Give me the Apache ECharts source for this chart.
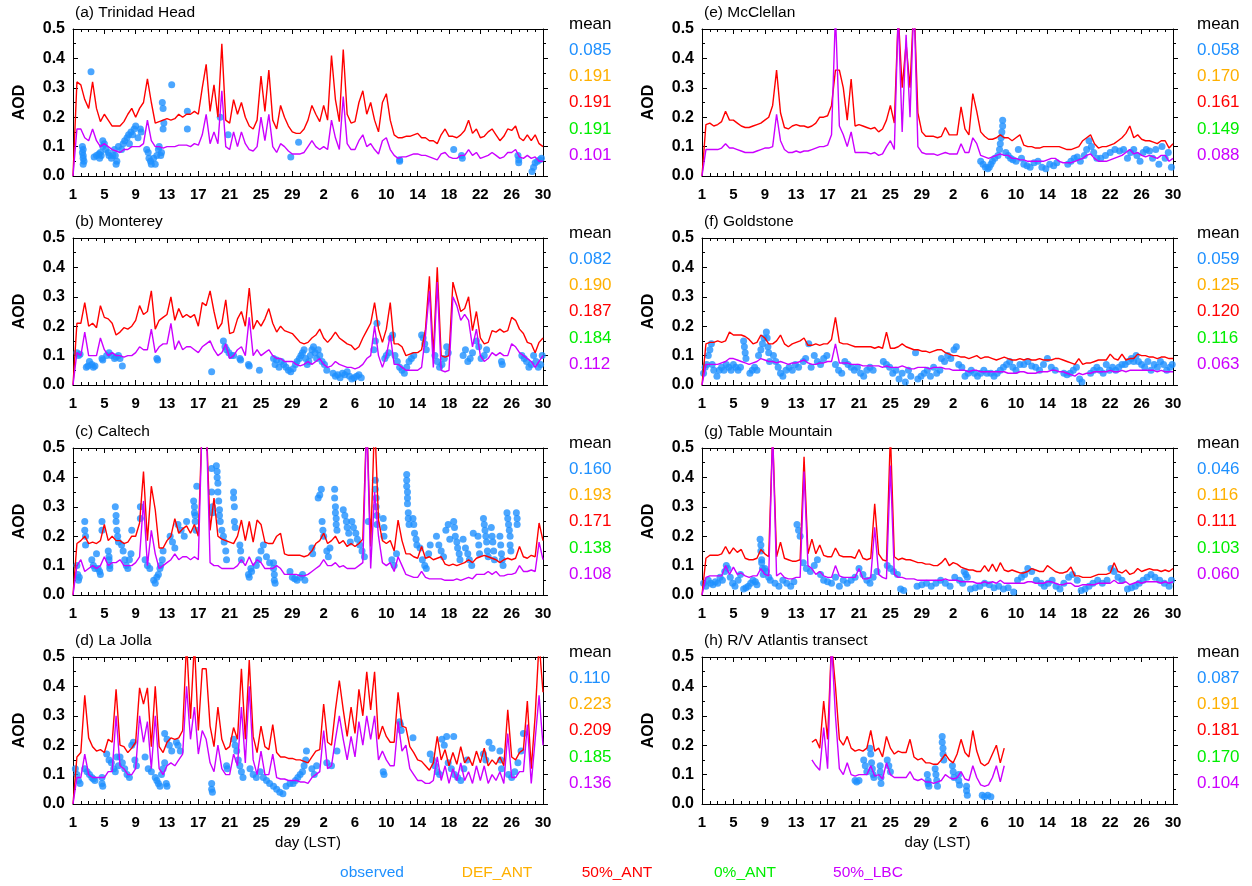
<!DOCTYPE html>
<html>
<head>
<meta charset="utf-8">
<script src="https://cdn.jsdelivr.net/npm/echarts@6/dist/echarts.min.js"></script>
<style>
html,body{margin:0;padding:0;background:#fff;}
#chart{width:1252px;height:886px;}
</style>
</head>
<body>
<div id="chart"></div>
<script>
// ---- station names and tick labels ----
const siteTitles = ['(a) Trinidad Head', '(b) Monterey', '(c) Caltech', '(d) La Jolla',
                    '(e) McClellan', '(f) Goldstone', '(g) Table Mountain', '(h) R/V Atlantis transect'];
const dayTicks = ['1','5','9','13','17','21','25','29','2','6','10','14','18','22','26','30'];
const aodTicks = ['0.0','0.1','0.2','0.3','0.4','0.5'];
const runNames = ['observed', 'DEF_ANT', '50%_ANT', '0%_ANT', '50%_LBC'];

// ---- period means: observed, DEF_ANT, 50%_ANT, 0%_ANT, 50%_LBC ----
const meanA = [0.085, 0.191, 0.191, 0.191, 0.101];
const meanB = [0.082, 0.190, 0.187, 0.184, 0.112];
const meanC = [0.160, 0.193, 0.171, 0.138, 0.108];
const meanD = [0.110, 0.223, 0.209, 0.185, 0.136];
const meanE = [0.058, 0.170, 0.161, 0.149, 0.088];
const meanF = [0.059, 0.125, 0.120, 0.116, 0.063];
const meanG = [0.046, 0.116, 0.111, 0.103, 0.060];
const meanH = [0.087, 0.191, 0.181, 0.170, 0.104];

// ---- modelled AOD, one value every half day from 1 May 00 LST to 30 Jun ----
const STEP_DAYS = 0.5;

const ant50A = [
 0,.32,.31,.26,.23,.32,.23,.185,.21,.19,
 .17,.17,.17,.185,.21,.23,.20,.23,.25,.33,
 .25,.18,.185,.19,.195,.19,.195,.21,.20,.21,
 .21,.22,.21,.30,.38,.22,.31,.20,.45,.19,
 .18,.26,.21,.25,.20,.17,.16,.19,.34,.22,
 .36,.19,.16,.24,.20,.17,.15,.145,.145,.16,
 .19,.24,.21,.185,.24,.19,.41,.26,.185,.43,
 .21,.18,.185,.25,.29,.21,.25,.19,.15,.25,
 .28,.19,.14,.13,.13,.135,.135,.14,.145,.13,
 .13,.12,.12,.11,.14,.16,.135,.135,.13,.14,
 .155,.19,.145,.16,.13,.135,.15,.16,.14,.12,
 .135,.16,.155,.17,.13,.12,.14,.12,.14,.11,
 .10];
const lbcA = [
 0,.16,.16,.13,.12,.16,.12,.10,.11,.10,
 .09,.085,.08,.09,.09,.10,.10,.10,.11,.19,
 .12,.10,.10,.095,.10,.10,.10,.105,.105,.105,
 .10,.11,.105,.14,.21,.11,.15,.11,.29,.10,
 .09,.15,.10,.15,.11,.09,.085,.10,.20,.12,
 .21,.10,.08,.11,.10,.085,.075,.075,.075,.08,
 .10,.12,.10,.09,.10,.09,.19,.13,.09,.27,
 .11,.09,.09,.12,.14,.10,.11,.09,.075,.12,
 .13,.09,.07,.06,.065,.065,.07,.075,.075,.07,
 .07,.065,.06,.055,.075,.08,.065,.06,.06,.07,
 .07,.09,.07,.08,.06,.065,.07,.08,.07,.06,
 .065,.08,.08,.09,.065,.06,.07,.06,.065,.05,
 .05];

const ant50B = [
 0,.21,.21,.28,.20,.21,.195,.27,.23,.225,
 .21,.17,.18,.195,.19,.20,.22,.27,.24,.25,
 .32,.19,.22,.23,.24,.30,.22,.26,.23,.24,
 .23,.24,.20,.28,.27,.32,.25,.19,.21,.29,
 .175,.18,.225,.25,.20,.33,.19,.22,.20,.225,
 .26,.21,.18,.20,.185,.18,.175,.16,.145,.14,
 .145,.16,.17,.19,.16,.145,.16,.18,.16,.15,
 .14,.135,.12,.13,.16,.185,.21,.28,.19,.145,
 .19,.28,.14,.14,.13,.10,.105,.11,.11,.12,
 .19,.37,.10,.40,.10,.095,.10,.35,.30,.25,
 .26,.30,.185,.25,.16,.14,.145,.185,.18,.19,
 .18,.185,.23,.22,.19,.175,.145,.14,.11,.145,
 .16];
const lbcB = [
 0,.11,.10,.18,.10,.10,.10,.16,.12,.10,
 .11,.10,.10,.095,.10,.10,.11,.13,.12,.12,
 .19,.11,.13,.14,.14,.21,.12,.15,.12,.13,
 .13,.12,.11,.13,.14,.15,.12,.10,.11,.14,
 .09,.10,.12,.13,.10,.23,.10,.12,.10,.11,
 .12,.10,.09,.09,.08,.08,.08,.07,.065,.07,
 .08,.07,.08,.09,.07,.06,.065,.08,.07,.065,
 .06,.06,.055,.06,.07,.09,.10,.20,.10,.06,
 .10,.17,.07,.07,.06,.05,.05,.05,.05,.06,
 .17,.32,.06,.35,.05,.045,.05,.30,.27,.22,
 .24,.22,.13,.19,.10,.08,.09,.11,.10,.11,
 .10,.10,.14,.13,.11,.10,.09,.08,.06,.08,
 .10];

const ant50C = [
 0,.175,.185,.20,.175,.18,.175,.185,.24,.185,
 .20,.185,.185,.175,.18,.20,.20,.245,.42,.185,
 .37,.29,.16,.16,.185,.20,.26,.21,.225,.235,
 .21,.24,.20,.6,.6,.22,.33,.20,.19,.185,
 .18,.175,.20,.255,.185,.25,.18,.255,.24,.18,
 .175,.175,.20,.21,.14,.135,.135,.135,.135,.13,
 .135,.15,.175,.185,.21,.175,.185,.20,.175,.185,
 .165,.175,.165,.175,.19,.6,.165,.6,.255,.185,
 .175,.185,.15,.255,.185,.14,.14,.13,.125,.165,
 .125,.13,.12,.125,.13,.105,.10,.105,.10,.105,
 .11,.12,.11,.125,.13,.135,.13,.125,.12,.11,
 .12,.125,.12,.125,.165,.13,.125,.135,.13,.245,
 .185];
const lbcC = [
 0,.10,.12,.08,.09,.10,.09,.10,.13,.10,
 .11,.11,.12,.10,.10,.10,.11,.13,.32,.10,
 .22,.14,.09,.10,.11,.12,.14,.12,.13,.13,
 .12,.13,.12,.6,.6,.11,.10,.10,.09,.09,
 .09,.09,.10,.12,.10,.13,.10,.12,.11,.09,
 .09,.09,.10,.09,.07,.07,.07,.07,.065,.065,
 .07,.08,.09,.10,.12,.10,.10,.11,.095,.10,
 .09,.09,.09,.10,.11,.6,.09,.35,.20,.11,
 .10,.11,.08,.13,.10,.07,.065,.06,.06,.08,
 .06,.055,.055,.055,.055,.05,.05,.05,.055,.05,
 .055,.06,.055,.07,.07,.07,.08,.07,.08,.065,
 .065,.07,.07,.075,.10,.08,.08,.085,.08,.18,
 .12];

const ant50D = [
 0,.16,.175,.37,.225,.195,.18,.185,.175,.22,
 .21,.39,.20,.195,.175,.19,.21,.395,.34,.395,
 .195,.40,.195,.175,.21,.225,.22,.225,.25,.55,
 .29,.55,.25,.46,.46,.265,.195,.33,.22,.185,
 .195,.26,.22,.46,.22,.49,.23,.175,.265,.195,
 .185,.27,.175,.16,.16,.155,.155,.15,.15,.145,
 .14,.16,.18,.185,.34,.21,.20,.32,.42,.32,
 .23,.33,.24,.39,.30,.45,.32,.45,.22,.265,
 .23,.21,.21,.38,.265,.26,.195,.175,.15,.145,
 .13,.115,.14,.23,.15,.185,.13,.175,.135,.195,
 .14,.16,.13,.18,.14,.19,.13,.15,.135,.16,
 .13,.32,.16,.15,.175,.185,.35,.12,.30,.55,
 .38];
const lbcD = [
 0,.09,.09,.17,.10,.09,.09,.09,.09,.11,
 .11,.30,.13,.12,.10,.10,.12,.30,.21,.28,
 .12,.30,.12,.10,.13,.14,.13,.15,.17,.40,
 .22,.33,.17,.25,.22,.14,.11,.20,.12,.10,
 .10,.17,.13,.33,.14,.40,.15,.10,.18,.10,
 .10,.17,.09,.085,.085,.08,.08,.08,.075,.075,
 .07,.09,.10,.11,.25,.12,.13,.22,.30,.22,
 .15,.23,.16,.28,.20,.30,.22,.30,.15,.18,
 .15,.13,.13,.28,.18,.20,.12,.10,.08,.08,
 .07,.07,.08,.16,.08,.13,.07,.12,.08,.14,
 .08,.11,.07,.13,.08,.13,.07,.10,.08,.11,
 .07,.24,.09,.09,.11,.11,.27,.07,.22,.37,
 .20];

const ant50E = [
 0,.175,.18,.17,.175,.185,.22,.19,.19,.18,
 .17,.165,.165,.17,.175,.18,.19,.20,.24,.36,
 .215,.165,.16,.17,.175,.17,.17,.165,.17,.18,
 .20,.20,.205,.24,.36,.36,.30,.19,.33,.17,
 .175,.17,.165,.16,.165,.15,.16,.19,.24,.18,
 .55,.30,.45,.30,.6,.215,.15,.135,.135,.135,
 .13,.135,.165,.14,.14,.14,.235,.16,.14,.28,
 .22,.15,.135,.125,.125,.13,.14,.13,.13,.12,
 .13,.14,.105,.10,.10,.095,.095,.10,.10,.10,
 .10,.10,.095,.09,.09,.095,.10,.12,.13,.14,
 .11,.095,.10,.10,.105,.11,.12,.13,.145,.17,
 .13,.14,.125,.12,.12,.115,.11,.12,.12,.095,
 .11];
const lbcE = [
 0,.09,.09,.09,.09,.095,.11,.095,.095,.09,
 .085,.08,.08,.08,.085,.09,.095,.095,.10,.21,
 .12,.09,.08,.08,.085,.08,.085,.085,.09,.095,
 .10,.10,.105,.14,.55,.17,.14,.10,.15,.08,
 .08,.08,.08,.075,.08,.07,.075,.10,.12,.09,
 .55,.15,.48,.20,.6,.10,.08,.075,.075,.075,
 .07,.075,.08,.075,.075,.075,.11,.08,.08,.13,
 .11,.07,.065,.06,.065,.07,.075,.07,.07,.06,
 .06,.055,.055,.05,.05,.05,.05,.05,.055,.06,
 .06,.05,.045,.045,.045,.05,.055,.06,.07,.075,
 .06,.05,.05,.05,.055,.06,.065,.07,.08,.09,
 .075,.08,.07,.065,.07,.065,.06,.07,.07,.05,
 .06];

const ant50F = [
 0,.14,.145,.145,.15,.145,.15,.18,.17,.17,
 .17,.165,.155,.14,.145,.17,.16,.14,.14,.15,
 .17,.14,.13,.14,.145,.15,.16,.135,.135,.14,
 .135,.14,.14,.155,.23,.145,.14,.14,.135,.13,
 .13,.13,.13,.13,.125,.13,.125,.18,.125,.125,
 .13,.14,.13,.125,.12,.12,.115,.115,.11,.115,
 .12,.12,.11,.105,.10,.10,.095,.095,.09,.095,
 .10,.09,.095,.095,.09,.085,.09,.095,.09,.085,
 .085,.09,.085,.09,.085,.085,.09,.085,.085,.085,
 .09,.09,.085,.08,.075,.07,.09,.07,.075,.075,
 .08,.085,.085,.085,.105,.09,.085,.105,.085,.09,
 .09,.105,.10,.10,.095,.095,.09,.095,.095,.09,
 .09];
const lbcF = [
 0,.07,.07,.07,.07,.075,.08,.09,.09,.085,
 .08,.075,.07,.075,.08,.09,.085,.08,.08,.075,
 .08,.075,.07,.075,.075,.08,.085,.075,.07,.07,
 .075,.075,.08,.08,.14,.075,.075,.075,.07,.07,
 .07,.065,.065,.065,.065,.065,.06,.065,.06,.06,
 .06,.065,.06,.055,.055,.06,.06,.06,.055,.06,
 .06,.06,.055,.055,.05,.05,.05,.05,.045,.05,
 .05,.045,.045,.045,.045,.045,.045,.045,.04,.04,
 .04,.045,.045,.04,.04,.04,.045,.045,.045,.05,
 .05,.045,.045,.04,.035,.03,.04,.035,.04,.04,
 .045,.045,.045,.045,.05,.045,.045,.05,.045,.05,
 .05,.05,.05,.05,.05,.05,.045,.05,.045,.045,
 .045];

const ant50G = [
 0,.125,.135,.135,.135,.14,.165,.14,.16,.145,
 .155,.125,.12,.12,.125,.155,.14,.13,.55,.13,
 .18,.125,.12,.115,.115,.12,.47,.14,.19,.14,
 .17,.135,.13,.13,.16,.135,.13,.13,.13,.125,
 .155,.125,.12,.125,.31,.14,.12,.115,.55,.13,
 .12,.125,.12,.12,.115,.11,.11,.105,.105,.10,
 .10,.11,.125,.10,.11,.105,.095,.09,.085,.085,
 .08,.08,.10,.08,.105,.08,.11,.085,.08,.085,
 .08,.075,.075,.08,.09,.085,.08,.08,.10,.09,
 .08,.075,.075,.08,.095,.065,.065,.06,.06,.06,
 .065,.07,.07,.07,.075,.11,.08,.075,.085,.07,
 .075,.09,.08,.085,.09,.085,.085,.08,.085,.08,
 .09];
const lbcG = [
 0,.06,.065,.065,.065,.065,.10,.07,.095,.07,
 .075,.065,.06,.065,.065,.09,.07,.065,.55,.065,
 .075,.06,.055,.055,.06,.06,.42,.10,.09,.07,
 .08,.065,.06,.06,.10,.065,.06,.06,.06,.06,
 .09,.055,.055,.06,.23,.07,.06,.055,.44,.07,
 .06,.06,.055,.055,.055,.05,.05,.05,.05,.05,
 .05,.05,.055,.05,.05,.05,.045,.045,.045,.045,
 .04,.04,.045,.04,.045,.04,.05,.04,.04,.04,
 .04,.04,.04,.045,.045,.04,.04,.04,.045,.045,
 .04,.035,.035,.04,.04,.03,.03,.035,.035,.035,
 .035,.04,.04,.04,.04,.05,.04,.04,.045,.035,
 .04,.045,.04,.045,.045,.045,.045,.04,.045,.04,
 .045];

// the ship transect only covers mid May to early June
const ant50H = [
 null,null,null,null,null,null,null,null,null,null,
 null,null,null,null,null,null,null,null,null,null,
 null,null,null,null,null,null,null,null,.21,.22,
 .19,.35,.22,.55,.40,.22,.20,.23,.19,.18,
 .185,.18,.19,.25,.18,.19,.16,.23,.19,.17,
 .18,.175,.175,.22,.16,.15,.155,.14,.14,.135,
 .135,.15,.17,.15,.14,.17,.22,.175,.16,.25,
 .18,.14,.13,.14,.17,.20,.14,.19,null,null,
 null,null,null,null,null,null,null,null,null,null,
 null,null,null,null,null,null,null,null,null,null,
 null,null,null,null,null,null,null,null,null,null,
 null,null,null,null,null,null,null,null,null,null,
 null];
const lbcH = [
 null,null,null,null,null,null,null,null,null,null,
 null,null,null,null,null,null,null,null,null,null,
 null,null,null,null,null,null,null,null,.15,.13,
 .115,.26,.12,.55,.30,.12,.10,.14,.10,.095,
 .10,.10,.10,.13,.095,.10,.085,.14,.10,.09,
 .09,.09,.09,.11,.085,.08,.085,.075,.075,.07,
 .075,.08,.10,.09,.085,.09,.11,.085,.08,.13,
 .09,.065,.06,.065,.09,.13,.075,.13,null,null,
 null,null,null,null,null,null,null,null,null,null,
 null,null,null,null,null,null,null,null,null,null,
 null,null,null,null,null,null,null,null,null,null,
 null,null,null,null,null,null,null,null,null,null,
 null];

// ---- observed AOD: [days since 1 May 00 LST, AOD] ----
const obsA = [[1.2,.10],[1.3,.09],[1.2,.08],[1.3,.07],[1.3,.06],[1.4,.05],[1.3,.04],[2.3,.355],
 [2.7,.065],[3.0,.07],[3.3,.075],[3.5,.08],[3.6,.07],[3.4,.06],[3.8,.10],[3.8,.12],[4.0,.11],[4.2,.09],[4.5,.08],[4.6,.07],[4.9,.06],[5.1,.07],[5.3,.09],[5.4,.07],[5.6,.05],[5.5,.04],[5.8,.10],
 [6.2,.09],[6.4,.11],[6.6,.12],[6.9,.13],[7.1,.14],[7.2,.11],[7.4,.15],[7.6,.14],[7.8,.16],[8.0,.17],[8.3,.13],[8.6,.16],[8.7,.15],
 [9.4,.09],[9.6,.08],[9.7,.06],[9.9,.05],[10.0,.04],[10.3,.06],[10.5,.04],[10.7,.07],[10.9,.09],[11.0,.10],[11.2,.07],[11.3,.08],
 [11.4,.25],[11.5,.23],[11.6,.18],[11.5,.16],[12.6,.31],[14.6,.22],[14.6,.16],[18.8,.20],[19.8,.14],[27.8,.065],[28.8,.115],
 [41.7,.055],[41.7,.05],[48.6,.09],[49.6,.07],[49.7,.06],[56.8,.07],[56.9,.055],[56.9,.045],
 [58.6,.015],[58.8,.03],[59.0,.045],[59.3,.05],[59.6,.055],[59.8,.06]];

const obsB = [[0.5,.11],[0.7,.10],[0.9,.105],[1.7,.06],[1.9,.065],[2.1,.08],[2.4,.07],[2.6,.06],[2.8,.065],
 [3.7,.09],[3.8,.085],[4.3,.10],[4.6,.11],[4.9,.10],[5.3,.09],[5.5,.095],[5.8,.10],[6.0,.09],[6.3,.065],
 [10.7,.09],[10.8,.085],[17.7,.045],[19.2,.15],[19.4,.13],[19.6,.12],[19.9,.11],[20.2,.10],[20.5,.10],
 [21.3,.09],[21.4,.085],[22.4,.07],[22.5,.065],[23.8,.05],
 [25.6,.09],[25.8,.07],[26.0,.085],[26.3,.06],[26.6,.08],[26.9,.07],[27.2,.06],[27.5,.05],[27.8,.045],[28.1,.055],
 [28.4,.07],[28.6,.08],[28.9,.09],[29.1,.10],[29.3,.11],[29.5,.12],[29.7,.09],[29.9,.07],[30.1,.08],[30.3,.10],[30.5,.12],[30.7,.13],[30.9,.11],[31.1,.09],
 [31.3,.12],[31.5,.10],[31.8,.08],[32.1,.07],[32.4,.05],
 [33.2,.04],[33.5,.03],[33.8,.035],[34.1,.025],[34.4,.04],[34.7,.035],[35.0,.045],[35.3,.03],[35.6,.02],[35.9,.025],[36.2,.03],[36.5,.035],[36.8,.025],
 [38.4,.12],[38.6,.15],[38.8,.21],[39.8,.09],[40.0,.10],[40.3,.11],[40.6,.16],[40.8,.17],
 [41.1,.10],[41.4,.08],[41.7,.06],[42.0,.05],[42.3,.04],[42.6,.06],[42.9,.08],[43.2,.09],[43.5,.10],
 [44.5,.17],[44.7,.16],[44.9,.14],[45.1,.12],[46.2,.10],[46.5,.08],[46.8,.06],[47.1,.07],[47.4,.09],[47.7,.13],[47.9,.11],
 [49.8,.10],[50.1,.12],[50.4,.08],[50.7,.09],[51.0,.11],[51.5,.15],[51.8,.13],[52.1,.09],[52.5,.10],[52.8,.12],
 [54.7,.08],[54.8,.07],[57.3,.10],[57.6,.09],[57.9,.08],[58.2,.06],[58.5,.07],[58.8,.10],[59.1,.08],[59.4,.06],[59.7,.07],[59.9,.10]];

const obsC = [[0.5,.10],[0.6,.07],[0.7,.05],[0.8,.06],[1.5,.25],[1.5,.22],[1.6,.20],[1.6,.17],
 [2.4,.12],[2.6,.10],[2.8,.09],[3.0,.14],[3.2,.09],[3.4,.08],[3.5,.07],[3.7,.25],[3.7,.22],
 [4.5,.15],[4.6,.13],[4.6,.12],[4.7,.10],[4.7,.09],[5.4,.30],[5.5,.27],[5.5,.25],[5.6,.22],[5.7,.20],[5.8,.18],
 [6.2,.17],[6.4,.15],[6.6,.12],[6.8,.10],[7.0,.09],[7.2,.12],[7.4,.14],[7.5,.22],[8.6,.30],[8.6,.26],
 [9.2,.12],[9.5,.10],[9.8,.09],[10.3,.05],[10.5,.04],[10.7,.06],[10.9,.07],[11.1,.09],[11.2,.10],[11.4,.12],[11.5,.15],
 [12.4,.20],[12.7,.18],[13.0,.16],[13.4,.24],[13.8,.22],[14.2,.20],[14.5,.25],
 [15.4,.32],[15.5,.30],[15.5,.28],[15.6,.27],[15.6,.25],[15.7,.22],[15.8,.37],
 [17.7,.43],[17.7,.35],[17.8,.30],[17.8,.28],
 [18.3,.44],[18.4,.42],[18.4,.40],[18.5,.38],[18.5,.35],[18.6,.32],[18.7,.29],[18.7,.27],[18.8,.25],
 [19.0,.22],[19.2,.20],[19.3,.18],[19.5,.15],[19.6,.12],[20.5,.35],[20.5,.33],[20.6,.30],[20.6,.25],[20.7,.23],
 [21.3,.17],[21.4,.15],[21.5,.12],[22.4,.07],[22.5,.06],[22.7,.09],[22.8,.08],
 [23.4,.10],[23.7,.12],[24.0,.15],[24.3,.17],[24.7,.13],[25.1,.11],
 [25.6,.11],[25.6,.09],[25.7,.07],[25.7,.05],[25.8,.04],
 [27.7,.08],[28.0,.06],[28.3,.055],[28.6,.05],[29.0,.06],[29.3,.07],[29.6,.05],[30.5,.16],[30.6,.14],
 [31.3,.33],[31.5,.34],[31.7,.36],[31.8,.25],[31.9,.22],[32.0,.20],[32.4,.15],[32.6,.13],[32.8,.16],
 [33.4,.36],[33.4,.33],[33.5,.30],[33.5,.28],[33.6,.26],[33.6,.24],[33.7,.22],
 [34.5,.29],[34.7,.27],[34.9,.25],[35.0,.23],[35.2,.21],[35.4,.18],
 [35.6,.25],[35.8,.23],[36.1,.21],[36.3,.19],[36.6,.17],[36.9,.15],[37.2,.13],[37.7,.25],
 [38.6,.39],[38.6,.36],[38.7,.33],[38.7,.30],[38.8,.27],[38.8,.24],[39.6,.26],[39.7,.23],[39.7,.20],
 [40.7,.12],[41.0,.10],[41.3,.14],
 [42.6,.41],[42.6,.39],[42.6,.37],[42.7,.35],[42.7,.33],[42.7,.31],[42.8,.28],[42.8,.26],[42.9,.24],
 [43.4,.26],[43.5,.24],[43.6,.21],[43.8,.19],[43.9,.17],[44.3,.16],[44.6,.12],[44.9,.10],[45.1,.09],[45.4,.14],[45.6,.17],
 [46.4,.20],[46.7,.17],[47.0,.15],[47.3,.13],[47.6,.22],[47.9,.24],[48.1,.19],
 [48.6,.25],[48.7,.23],[48.8,.20],[49.0,.18],[49.1,.16],[49.3,.14],[49.4,.12],
 [49.8,.19],[50.1,.16],[50.4,.14],[50.6,.12],[50.9,.10],[51.1,.21],[51.7,.20],[51.8,.17],[51.9,.14],
 [52.4,.26],[52.5,.24],[52.6,.22],[52.7,.20],[52.8,.18],[52.9,.15],[53.0,.13],
 [53.4,.23],[53.5,.20],[53.6,.18],[53.7,.15],[53.8,.12],[54.5,.20],[54.6,.17],[54.7,.14],[54.8,.12],[54.9,.10],
 [55.4,.28],[55.5,.26],[55.6,.24],[55.7,.22],[55.8,.20],[55.8,.17],[55.9,.15],[56.6,.28],[56.7,.26],[56.7,.24]];

const obsD = [[0.3,.12],[0.5,.10],[0.7,.08],[0.9,.07],[1.5,.12],[1.8,.11],[2.1,.10],[2.4,.09],[2.6,.085],[2.8,.08],
 [3.7,.09],[3.7,.07],[3.8,.06],[4.3,.17],[4.6,.15],[4.9,.14],[5.2,.12],[5.4,.11],[5.6,.16],[5.8,.13],
 [6.0,.16],[6.3,.14],[6.6,.12],[6.9,.10],[7.2,.09],[7.5,.20],[7.7,.21],[7.9,.15],[8.1,.13],
 [9.2,.16],[9.6,.12],[10.0,.11],[10.5,.09],[10.7,.08],[10.9,.07],[11.1,.06],[11.3,.10],[11.5,.12],[11.7,.14],[11.9,.07],[12.0,.06],
 [11.7,.24],[12.0,.22],[12.3,.20],[12.6,.18],[13.2,.21],[13.4,.20],[13.7,.18],
 [17.7,.07],[17.7,.05],[17.8,.04],[19.6,.13],[19.7,.12],
 [20.5,.22],[20.7,.20],[20.9,.18],[21.1,.15],[21.3,.13],[21.5,.11],[21.7,.09],
 [22.6,.12],[23.0,.10],[23.4,.09],[23.9,.11],[24.3,.09],[24.7,.08],[25.1,.07],[25.6,.06],
 [26.0,.05],[26.4,.04],[26.8,.035],[27.2,.06],[27.7,.07],
 [28.1,.07],[28.4,.08],[28.7,.09],[29.0,.10],[29.3,.11],[29.5,.13],[29.7,.15],[29.8,.18],
 [30.5,.12],[30.8,.10],[31.1,.13],[32.4,.14],[33.0,.13],[33.7,.18],[39.6,.11],[39.7,.10],
 [41.7,.28],[41.8,.27],[41.9,.25],[43.4,.225],
 [45.6,.17],[45.9,.15],[46.2,.13],[46.5,.11],[46.8,.10],[47.1,.22],[47.4,.20],[47.7,.23],[48.6,.23],
 [47.9,.14],[48.3,.12],[48.7,.10],[49.1,.09],[49.5,.08],[49.9,.12],[50.3,.15],
 [52.4,.17],[52.7,.15],[53.1,.21],[53.5,.19],[54.5,.18],[54.6,.15],[54.7,.12],
 [55.6,.10],[56.0,.09],[56.4,.11],[56.8,.14],[57.2,.18],[57.5,.24]];

const obsE = [[35.5,.05],[35.8,.04],[36.1,.03],[36.4,.025],[36.6,.03],[36.8,.04],[37.0,.05],[37.3,.06],
 [37.7,.07],[37.9,.09],[38.0,.11],[38.1,.13],[38.2,.15],[38.3,.17],[38.3,.19],
 [38.7,.08],[39.0,.07],[39.3,.06],[39.6,.055],[40.0,.05],[40.3,.09],[40.7,.06],
 [41.0,.04],[41.4,.035],[41.8,.03],[42.3,.045],[42.8,.05],[43.3,.03],[43.8,.025],[44.3,.04],[44.8,.035],[45.2,.045],
 [46.6,.04],[47.0,.05],[47.4,.06],[47.8,.065],[48.2,.05],
 [48.7,.07],[49.0,.09],[49.3,.12],[49.6,.10],[49.9,.08],[50.3,.06],
 [50.8,.06],[51.4,.07],[52.0,.08],[52.6,.09],[53.2,.085],[53.7,.09],
 [54.2,.06],[54.6,.08],[55.0,.09],[55.4,.07],[55.8,.05],[56.2,.08],[56.6,.09],[57.0,.085],[57.4,.06],[57.8,.09],[58.2,.04],[58.6,.10],[59.0,.06],[59.4,.08],[59.8,.03]];

const obsF = [[0.2,.04],[0.4,.06],[0.6,.07],[0.8,.10],[1.0,.12],[1.2,.14],[1.3,.07],[1.5,.05],
 [1.9,.03],[2.2,.05],[2.5,.06],[2.8,.05],[3.1,.07],[3.4,.06],[3.7,.05],[4.0,.07],[4.3,.06],[4.6,.05],[4.9,.06],
 [5.3,.15],[5.4,.13],[5.5,.11],[5.6,.09],[6.1,.04],[6.4,.05],[6.7,.06],[7.0,.05],
 [7.2,.10],[7.5,.12],[7.7,.14],[7.9,.16],[8.2,.18],[8.3,.16],[8.4,.13],[8.5,.11],[8.6,.08],
 [9.1,.10],[9.4,.08],[9.7,.06],[10.0,.04],[10.3,.03],[10.7,.05],[11.1,.06],[11.5,.05],[11.9,.07],[12.3,.06],
 [12.9,.08],[13.2,.09],[13.6,.14],[13.9,.06],[14.3,.10],[14.7,.08],[15.1,.07],[15.5,.09],[15.9,.10],
 [17.0,.07],[17.4,.05],[17.8,.04],[18.2,.08],[18.6,.07],[19.0,.06],[19.4,.05],[19.8,.06],[20.2,.04],[20.6,.03],[21.0,.05],[21.4,.06],[21.8,.05],
 [23.1,.08],[23.5,.07],[23.9,.06],[24.3,.04],[24.7,.05],[25.1,.02],[25.5,.04],[25.9,.01],[26.3,.05],[26.6,.03],[27.2,.11],
 [27.5,.02],[27.9,.03],[28.3,.04],[28.7,.05],[29.1,.03],[29.5,.06],[29.9,.04],[30.3,.05],
 [30.5,.09],[30.9,.08],[31.3,.10],[31.7,.09],[32.1,.12],[32.4,.13],
 [32.7,.07],[33.1,.06],[33.5,.03],[33.9,.04],[34.3,.05],[34.7,.04],[35.1,.03],[35.5,.04],[35.9,.05],[36.3,.04],
 [36.8,.04],[37.2,.03],[37.6,.04],[38.0,.05],[38.4,.06],[38.8,.07],[39.2,.08],[39.6,.06],[40.0,.05],[40.5,.07],
 [41.0,.07],[41.5,.08],[42.0,.065],[42.5,.06],[43.0,.05],[43.5,.07],[44.0,.09],[44.5,.06],[45.0,.05],
 [46.1,.04],[46.5,.035],[46.9,.04],[47.3,.05],[47.7,.06],[48.1,.02],[48.4,.01],
 [49.5,.04],[49.9,.05],[50.3,.06],[50.7,.05],[51.1,.04],[51.5,.07],[51.9,.05],[52.3,.06],[52.7,.05],[53.1,.06],[53.5,.07],
 [53.9,.07],[54.3,.08],[54.7,.09],[55.0,.08],[55.3,.10],[55.6,.08],[56.0,.07],[56.4,.06],[56.8,.08],[57.2,.05],[57.6,.07],[58.0,.06],[58.4,.08],[58.8,.07],[59.2,.05],[59.6,.06],[59.9,.07]];

const obsG = [[0.2,.04],[0.5,.03],[0.8,.05],[1.1,.04],[1.4,.035],[1.7,.045],[2.0,.04],[2.3,.06],[2.6,.05],
 [2.9,.08],[3.1,.10],[3.3,.09],[3.6,.06],[3.9,.04],[4.2,.03],[4.6,.05],[4.9,.07],
 [5.3,.02],[5.6,.025],[5.9,.03],[6.2,.04],[6.5,.05],[6.8,.045],[7.0,.035],
 [7.4,.19],[7.5,.17],[7.5,.15],[7.6,.12],[7.6,.11],[7.7,.09],[7.8,.07],[8.0,.09],[8.2,.08],[8.5,.06],[8.7,.05],
 [9.3,.04],[9.8,.03],[10.3,.05],[10.8,.04],[11.3,.03],[11.7,.045],[12.1,.24],[12.3,.22],[12.5,.20],
 [12.9,.11],[13.3,.09],[13.8,.08],[14.3,.10],[14.7,.12],[15.1,.07],
 [15.5,.05],[16.0,.045],[16.5,.04],[17.0,.06],[17.5,.03],[18.0,.05],
 [18.5,.04],[19.0,.05],[19.5,.06],[20.0,.09],[20.5,.07],[21.0,.05],[21.4,.04],[21.8,.06],[22.3,.08],
 [23.6,.10],[24.0,.09],[24.4,.08],[24.9,.07],[25.3,.02],[25.7,.015],
 [27.4,.03],[28.0,.035],[28.6,.04],[29.2,.03],[29.8,.04],[30.4,.05],[31.0,.04],[31.6,.03],[32.2,.06],[32.8,.05],[33.2,.04],
 [33.4,.08],[33.6,.07],[33.8,.06],
 [34.2,.02],[34.8,.025],[35.4,.03],[36.0,.04],[36.6,.035],[37.2,.025],[37.8,.03],[38.4,.02],[39.0,.025],[39.7,.01],
 [40.2,.05],[40.7,.06],[41.1,.07],[41.5,.09],[42.0,.08],[42.6,.05],[43.2,.04],
 [43.6,.03],[44.1,.04],[44.6,.05],[45.1,.03],[45.6,.02],[46.1,.04],[46.7,.06],[47.2,.07],[47.8,.05],
 [48.3,.015],[48.8,.02],[49.3,.03],[49.8,.04],[50.4,.05],[51.0,.04],[51.6,.05],
 [52.1,.09],[52.5,.08],[53.0,.06],[53.5,.05],
 [54.2,.02],[54.7,.025],[55.2,.03],[55.7,.04],[56.2,.05],[56.7,.06],[57.2,.07],[57.7,.06],[58.3,.05],[58.9,.04],[59.5,.03],[59.8,.05]];

const obsH = [[19.5,.08],[19.7,.075],[20.0,.08],[20.6,.15],[20.8,.13],[21.0,.11],
 [21.4,.19],[21.5,.17],[21.6,.14],[21.7,.12],[21.8,.10],[21.9,.09],
 [22.7,.13],[22.7,.11],[22.8,.09],[22.8,.07],[23.6,.15],[23.8,.13],[24.0,.11],
 [28.7,.10],[28.8,.08],[28.8,.07],[28.9,.06],[29.7,.12],[29.8,.10],[29.9,.08],[30.0,.06],
 [30.6,.23],[30.6,.21],[30.7,.19],[30.7,.17],[30.8,.15],[31.9,.13],[32.0,.11],[32.1,.09],
 [32.7,.10],[32.7,.08],[32.8,.065],[33.7,.06],[33.7,.045],[33.8,.03],
 [35.7,.03],[36.0,.025],[36.4,.03],[36.8,.025]];

// ---- layout and styling ----
const FONT = '"Liberation Sans", Arial, Helvetica, sans-serif';
const runColors = ['#1E90FF', '#FFB000', '#FF0000', '#00EE00', '#CC00FF'];
const colLeft = [73, 702];
const colWidth = [470, 471];
const rowTop = [29, 238, 448, 657];
const plotH = 147;
const meanX = [569, 1197];

const panels = [
  {ant: ant50A, lbc: lbcA, obs: obsA, mean: meanA},
  {ant: ant50B, lbc: lbcB, obs: obsB, mean: meanB},
  {ant: ant50C, lbc: lbcC, obs: obsC, mean: meanC},
  {ant: ant50D, lbc: lbcD, obs: obsD, mean: meanD},
  {ant: ant50E, lbc: lbcE, obs: obsE, mean: meanE},
  {ant: ant50F, lbc: lbcF, obs: obsF, mean: meanF},
  {ant: ant50G, lbc: lbcG, obs: obsG, mean: meanG},
  {ant: ant50H, lbc: lbcH, obs: obsH, mean: meanH}
];

const grids = [], xAxes = [], yAxes = [], series = [], graphics = [], titles = [];
const black = {color: '#000', width: 1};

panels.forEach((p, i) => {
  const col = Math.floor(i / 4), row = i % 4;
  const left = colLeft[col], top = rowTop[row], width = colWidth[col];
  grids.push({left: left, top: top, width: width, height: plotH,
              containLabel: false, outerBoundsMode: 'none', show: false});

  const xCommon = {
    gridIndex: i, type: 'value', min: 0, max: 60, interval: 4,
    splitLine: {show: false}, minorSplitLine: {show: false},
    axisLine: {show: true, onZero: false, lineStyle: black},
    axisTick: {show: true, inside: true, length: 5, lineStyle: black},
    minorTick: {show: true, splitNumber: 4, length: 3, lineStyle: black}
  };
  xAxes.push(Object.assign({}, xCommon, {
    position: 'bottom',
    axisLabel: {show: true, color: '#000', fontFamily: FONT, fontSize: 15, fontWeight: 'bold',
                margin: 11, showMinLabel: true, showMaxLabel: true,
                formatter: v => dayTicks[Math.round(v / 4)]}
  }));
  xAxes.push(Object.assign({}, xCommon, {position: 'top', axisLabel: {show: false}}));

  const yCommon = {
    gridIndex: i, type: 'value', min: 0, max: 0.5, interval: 0.1,
    splitLine: {show: false}, minorSplitLine: {show: false},
    axisLine: {show: true, onZero: false, lineStyle: black}
  };
  yAxes.push(Object.assign({}, yCommon, {
    position: 'left',
    axisTick: {show: true, inside: true, length: 5, lineStyle: black},
    minorTick: {show: true, splitNumber: 2, length: 3, lineStyle: black},
    axisLabel: {show: true, color: '#000', fontFamily: FONT, fontSize: 16, fontWeight: 'bold',
                margin: 8, formatter: v => aodTicks[Math.round(v * 10)]}
  }));
  yAxes.push(Object.assign({}, yCommon, {
    position: 'right',
    axisTick: {show: true, inside: false, length: 5, lineStyle: black},
    minorTick: {show: true, splitNumber: 2, length: 3, lineStyle: black},
    axisLabel: {show: false}
  }));

  series.push({
    name: runNames[0], type: 'scatter', xAxisIndex: 2 * i, yAxisIndex: 2 * i,
    data: p.obs, symbol: 'circle', symbolSize: 7, z: 2,
    itemStyle: {color: runColors[0]}, silent: true
  });
  series.push({
    name: runNames[2], type: 'line', xAxisIndex: 2 * i, yAxisIndex: 2 * i,
    data: p.ant.map((v, k) => [k * STEP_DAYS, v]), showSymbol: false, symbol: 'none',
    connectNulls: false, clip: true, z: 3,
    lineStyle: {color: runColors[2], width: 1.4}, silent: true
  });
  series.push({
    name: runNames[4], type: 'line', xAxisIndex: 2 * i, yAxisIndex: 2 * i,
    data: p.lbc.map((v, k) => [k * STEP_DAYS, v]), showSymbol: false, symbol: 'none',
    connectNulls: false, clip: true, z: 4,
    lineStyle: {color: runColors[4], width: 1.4}, silent: true
  });

  // panel title
  graphics.push({type: 'text', x: left + 2, y: top - 16,
    style: {text: siteTitles[i], font: '15.5px ' + FONT, fill: '#000',
            textAlign: 'left', textVerticalAlign: 'middle'}});
  // y axis title
  graphics.push({type: 'text', x: left - 53, y: top + plotH / 2, rotation: Math.PI / 2,
    style: {text: 'AOD', font: 'bold 16px ' + FONT, fill: '#000',
            textAlign: 'center', textVerticalAlign: 'middle'}});
  // period means
  graphics.push({type: 'text', x: meanX[col], y: top - 5,
    style: {text: 'mean', font: '17px ' + FONT, fill: '#000',
            textAlign: 'left', textVerticalAlign: 'middle'}});
  p.mean.forEach((m, k) => {
    graphics.push({type: 'text', x: meanX[col], y: top + 21 + 26.3 * k,
      style: {text: m.toFixed(3), font: '17px ' + FONT, fill: runColors[k],
              textAlign: 'left', textVerticalAlign: 'middle'}});
  });
  if (row === 3) {
    graphics.push({type: 'text', x: left + width / 2, y: top + plotH + 39,
      style: {text: 'day (LST)', font: '15px ' + FONT, fill: '#000',
              textAlign: 'center', textVerticalAlign: 'middle'}});
  }
});

// run names along the bottom
const legendX = [372, 497, 617, 745, 868];
runNames.forEach((n, k) => {
  graphics.push({type: 'text', x: legendX[k], y: 873,
    style: {text: n, font: '15.5px ' + FONT, fill: runColors[k],
            textAlign: 'center', textVerticalAlign: 'middle'}});
});

const chart = echarts.init(document.getElementById('chart'), null, {renderer: 'canvas'});
chart.setOption({
  backgroundColor: '#fff',
  animation: false,
  grid: grids,
  xAxis: xAxes,
  yAxis: yAxes,
  series: series,
  graphic: graphics
});
</script>
</body>
</html>
